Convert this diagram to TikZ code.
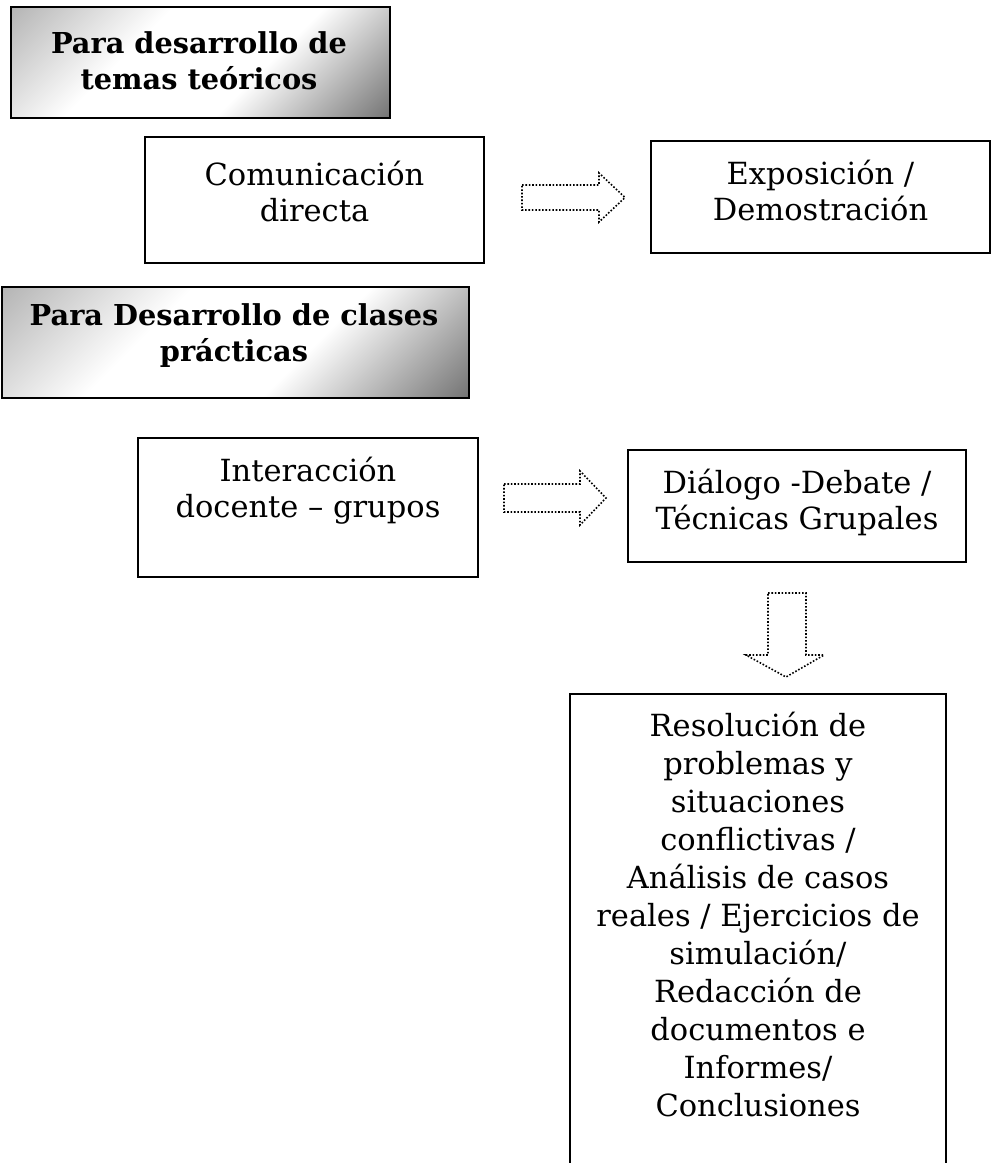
\documentclass[tikz,border=0pt]{standalone}
\usepackage{fontspec}
\setmainfont{DejaVu Serif}
\pgfdeclarehorizontalshading{hdrshade}{100bp}{color(0bp)=(gray!65); color(12bp)=(gray!65); color(38bp)=(white); color(60bp)=(white); color(86bp)=(gray!88!black); color(100bp)=(gray!88!black)}
\begin{document}
\begin{tikzpicture}[x=1pt,y=-1pt,
  box/.style={draw, line width=1.8pt, inner sep=0pt},
  head/.style={draw, line width=2.6pt, inner sep=0pt, shading=hdrshade, shading angle=-45},
  txt/.style={align=center, font=\fontsize{30.5}{36}\selectfont, inner sep=0pt},
  bigtxt/.style={align=center, font=\fontsize{30.5}{38}\selectfont, inner sep=0pt},
  htxt/.style={align=center, font=\fontsize{28.8}{36}\selectfont\bfseries, inner sep=0pt},
  barrow/.style={draw, line width=1.6pt, dash pattern=on 1.6pt off 1.8pt}]
\useasboundingbox (0,0) rectangle (992,1163);
% headers
\node[head, minimum width=379pt, minimum height=111pt] (h1) at (200.5,62.5) {};
\node[htxt] (h1t) at (199,60.5) {Para desarrollo de\\temas teóricos};
\node[head, minimum width=467pt, minimum height=111pt] (h2) at (235.5,342.5) {};
\node[htxt] (h2t) at (234,336) {Para Desarrollo de clases\\prácticas};
% boxes
\node[box, minimum width=339pt, minimum height=126pt] (com) at (314.5,200) {};
\node[txt] (comt) at (314.5,191.5) {Comunicación\\directa};
\node[box, minimum width=339pt, minimum height=112pt] (exp) at (820.5,197) {};
\node[txt] (expt) at (820.5,190.5) {Exposición /\\Demostración};
\node[box, minimum width=340pt, minimum height=139pt] (int) at (308,507.5) {};
\node[txt] (intt) at (308,490.5) {Interacción\\docente – grupos};
\node[box, minimum width=338pt, minimum height=112pt] (dia) at (797,506) {};
\node[txt] (diat) at (797,502.5) {Diálogo -Debate /\\Técnicas Grupales};
\node[minimum width=376pt, minimum height=469pt, inner sep=0pt] (big) at (758,928.5) {};
\draw[line width=1.8pt] (big.south west) -- (big.north west) -- (big.north east) -- (big.south east);
\node[bigtxt] (bigt) at (758,915) {Resolución de\\problemas y\\situaciones\\conflictivas /\\Análisis de casos\\reales / Ejercicios de\\simulación/\\Redacción de\\documentos e\\Informes/\\Conclusiones};
% block arrows
\draw[barrow] (522,185) -- (599,185) -- (599,173) -- (625,197.5) -- (599,222) -- (599,210) -- (522,210) -- cycle;
\draw[barrow] (504,484) -- (580,484) -- (580,471) -- (606,498) -- (580,525) -- (580,512) -- (504,512) -- cycle;
\draw[barrow] (768,593) -- (806,593) -- (806,655) -- (824,655) -- (786,677) -- (746,655) -- (768,655) -- cycle;
\end{tikzpicture}
\end{document}
